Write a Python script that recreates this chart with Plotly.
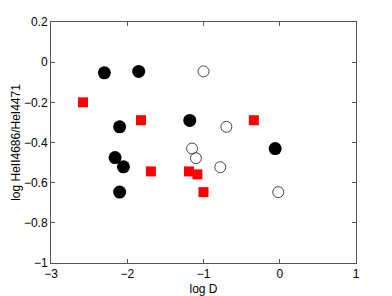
import plotly.graph_objects as go

# Filled black circles
filled_x = [-2.30, -1.85, -2.10, -1.18, -2.16, -2.05, -2.10, -0.06]
filled_y = [-0.053, -0.046, -0.322, -0.290, -0.475, -0.521, -0.647, -0.430]

# Open circles
open_x = [-1.00, -0.70, -1.15, -1.10, -0.78, -0.02]
open_y = [-0.046, -0.322, -0.430, -0.478, -0.523, -0.647]

# Red squares
sq_x = [-2.58, -1.82, -0.34, -1.69, -1.19, -1.08, -1.00]
sq_y = [-0.200, -0.289, -0.289, -0.544, -0.544, -0.559, -0.647]

FONT = "Liberation Sans, Arial, sans-serif"
AXIS_COLOR = "#555555"

fig = go.Figure()

fig.add_trace(go.Scatter(
    x=filled_x, y=filled_y, mode="markers",
    marker=dict(symbol="circle", size=13, color="black"),
    showlegend=False,
))
fig.add_trace(go.Scatter(
    x=open_x, y=open_y, mode="markers",
    marker=dict(symbol="circle-open", size=11, color="#444444", line=dict(width=1)),
    showlegend=False,
))
fig.add_trace(go.Scatter(
    x=sq_x, y=sq_y, mode="markers",
    marker=dict(symbol="square", size=10, color="#ff0000"),
    showlegend=False,
))

axis_common = dict(
    showgrid=False,
    zeroline=False,
    showline=True,
    linecolor=AXIS_COLOR,
    linewidth=1,
    mirror="ticks",
    ticks="inside",
    ticklen=4,
    tickcolor=AXIS_COLOR,
    automargin=False,
    tickfont=dict(family=FONT, size=12, color="black"),
)

fig.update_xaxes(
    range=[-3, 1], tickvals=[-3, -2, -1, 0, 1],
    ticktext=["−3", "−2", "−1", "0", "1"],
    title=dict(text="log D", font=dict(family=FONT, size=12, color="black"), standoff=4),
    **axis_common,
)
fig.update_yaxes(
    range=[-1, 0.2], tickvals=[-1, -0.8, -0.6, -0.4, -0.2, 0, 0.2],
    ticktext=["−1", "−0.8", "−0.6", "−0.4", "−0.2", "0", "0.2"],
    title=dict(text="log HeII4686/HeI4471", font=dict(family=FONT, size=12, color="black"), standoff=0),
    **axis_common,
)

fig.update_layout(
    width=392,
    height=296,
    margin=dict(l=51, r=36, t=22, b=33),
    plot_bgcolor="white",
    paper_bgcolor="white",
)

# drop the default 8px page margin so the figure fills the window
fig.write_html(
    "out.html",
    config={"displayModeBar": False},
    post_script="document.body.style.margin='0';",
)
